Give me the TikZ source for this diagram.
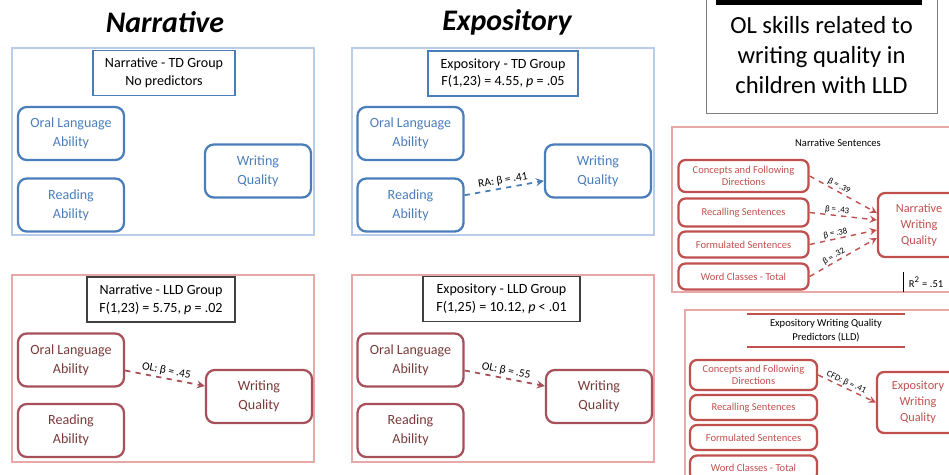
\documentclass[tikz,border=0pt]{standalone}
\usepackage{fontspec}
\setmainfont{Carlito}
\definecolor{tdline}{HTML}{4A7EBB}
\definecolor{tdframe}{HTML}{B9CDEB}
\definecolor{lldline}{HTML}{A8505A}
\definecolor{lldframe}{HTML}{E8A8A8}
\definecolor{lldtext}{HTML}{7A3A3A}
\definecolor{celfred}{HTML}{C0504D}
\tikzset{
  panel/.style={draw=#1, line width=0.6pt},
  tdbox/.style={draw=tdline, text=tdline, line width=1.3pt, rounded corners=5pt,
    minimum width=2.12cm, minimum height=1.06cm, align=center,
    font=\fontsize{8}{11}\selectfont},
  lldbox/.style={tdbox, draw=lldline, text=lldtext},
  headbox/.style={draw=#1, line width=1.1pt, align=center, inner sep=2pt,
    minimum height=0.9cm, font=\fontsize{8}{10}\selectfont},
  celfbox/.style={draw=celfred, text=celfred, line width=1.3pt, rounded corners=4pt,
    minimum width=2.6cm, align=center, inner sep=1pt, font=\fontsize{6}{7}\selectfont},
  link/.style={->, >=stealth, dashed, line width=1pt},
  weight/.style={midway, above, sloped, inner sep=1pt, font=\fontsize{6.5}{8}\selectfont},
  smallweight/.style={pos=0.4, above, sloped, inner sep=0.5pt, font=\fontsize{5}{6}\selectfont}
}
\begin{document}
\begin{tikzpicture}[x=0.02cm, y=-0.02cm]
  \useasboundingbox (0,0) rectangle (949,474);
  % column titles
  \draw
    (165,22) node[font=\fontsize{17}{20}\selectfont\bfseries\itshape] (ntitle) {Narrative}
    (507,22) node[font=\fontsize{17}{20}\selectfont\bfseries\itshape] (etitle) {Expository};
  % panels
  \draw[panel=tdframe] (12,48) rectangle (314,235);
  \draw[panel=tdframe] (352,48) rectangle (654,235);
  \draw[panel=lldframe] (12,275) rectangle (314,462);
  \draw[panel=lldframe] (352,275) rectangle (654,462);
  % narrative, TD
  \draw
    (164,73) node[headbox=tdline, minimum width=2.84cm] (ntdhead) {Narrative - TD Group\\No predictors}
    (71,133.5) node[tdbox] (ntdol) {Oral Language\\Ability}
    (71,205) node[tdbox] (ntdra) {Reading\\Ability}
    (258,171) node[tdbox] (ntdwq) {Writing\\Quality};
  % expository, TD
  \draw
    (503,73.5) node[headbox=tdline, minimum width=3cm] (etdhead) {Expository - TD Group\\F(1,23) = 4.55, \textit{p} = .05}
    (410.5,133.5) node[tdbox] (etdol) {Oral Language\\Ability}
    (410.5,205) node[tdbox] (etdra) {Reading\\Ability}
    (598,171) node[tdbox] (etdwq) {Writing\\Quality};
  % narrative, LLD
  \draw
    (161,299.5) node[headbox=darkgray, minimum width=2.96cm] (nlldhead) {Narrative - LLD Group\\F(1,23) = 5.75, \textit{p} = .02}
    (71,360) node[lldbox] (nlldol) {Oral Language\\Ability}
    (71,430.5) node[lldbox] (nlldra) {Reading\\Ability}
    (259,396.5) node[lldbox] (nlldwq) {Writing\\Quality};
  % expository, LLD
  \draw
    (501.5,299) node[headbox=darkgray, minimum width=3.14cm] (elldhead) {Expository - LLD Group\\F(1,25) = 10.12, \textit{p} < .01}
    (410.5,360) node[lldbox] (elldol) {Oral Language\\Ability}
    (410.5,430.5) node[lldbox] (elldra) {Reading\\Ability}
    (599,396.5) node[lldbox] (elldwq) {Writing\\Quality};
  \begin{scope}[link]
    \draw[tdline] (etdra) to node[weight, text=black] {RA: β = .41} (etdwq);
    \draw[lldline] (nlldol) to node[weight, text=black] {OL: β = .45} (nlldwq);
    \draw[lldline] (elldol) to node[weight, text=black] {OL: β = .55} (elldwq);
  \end{scope}
  % note, top right
  \draw[gray] (706,-5) rectangle (937,113);
  \fill (716,-2) rectangle (922,5);
  \draw (821.5,55) node[align=center, font=\fontsize{14}{17}\selectfont] (olnote)
    {OL skills related to\\writing quality in\\children with LLD};
  % CELF subtests, narrative
  \draw[panel=lldframe] (672,127) rectangle (955,292);
  \draw
    (838,143) node[font=\fontsize{6}{7}\selectfont] (cnhead) {Narrative Sentences}
    (743.5,176) node[celfbox, minimum height=0.64cm] (cn1) {Concepts and Following\\Directions}
    (743.5,212.5) node[celfbox, minimum height=0.56cm] (cn2) {Recalling Sentences}
    (743.5,244.5) node[celfbox, minimum height=0.52cm] (cn3) {Formulated Sentences}
    (743.5,276.5) node[celfbox, minimum height=0.52cm] (cn4) {Word Classes - Total}
    (919,225) node[celfbox, minimum width=1.64cm, minimum height=1.28cm,
      font=\fontsize{7}{9}\selectfont] (cnwq) {Narrative\\Writing\\Quality};
  \begin{scope}[link, celfred, line width=0.8pt]
    \draw (cn1.east) to node[smallweight, text=black] {β = .39} ([yshift=0.24cm]cnwq.west);
    \draw (cn2.east) to node[smallweight, text=black] {β = .43} ([yshift=0.1cm]cnwq.west);
    \draw (cn3.east) to node[smallweight, text=black] {β = .38} ([yshift=-0.1cm]cnwq.west);
    \draw (cn4.east) to node[smallweight, text=black] {β = .32} ([yshift=-0.26cm]cnwq.west);
  \end{scope}
  \draw (903,272) -- (903,292);
  \draw (926,282) node[font=\fontsize{6}{7}\selectfont] (cnr2) {R\textsuperscript{2} = .51};
  % CELF subtests, expository
  \draw[panel=lldframe] (685,480) -- (685,310) -- (955,310);
  \draw[celfred, line width=1pt] (747,314) -- (905,314) (747,347) -- (905,347);
  \draw
    (826,330.5) node[align=center, font=\fontsize{6}{7.5}\selectfont] (cehead) {Expository Writing Quality\\Predictors (LLD)}
    (753.5,375) node[celfbox, minimum width=2.54cm, minimum height=0.6cm] (ce1) {Concepts and Following\\Directions}
    (753.5,407.5) node[celfbox, minimum width=2.54cm, minimum height=0.5cm] (ce2) {Recalling Sentences}
    (753.5,437.5) node[celfbox, minimum width=2.54cm, minimum height=0.5cm] (ce3) {Formulated Sentences}
    (753.5,468) node[celfbox, minimum width=2.54cm, minimum height=0.5cm] (ce4) {Word Classes - Total}
    (918,402.5) node[celfbox, minimum width=1.64cm, minimum height=1.22cm,
      font=\fontsize{7}{9}\selectfont] (cewq) {Expository\\Writing\\Quality};
  \begin{scope}[link, celfred, line width=0.8pt]
    \draw (ce1.east) to node[smallweight, pos=0.45, text=black] {CFD: β = .41} (cewq.west);
  \end{scope}
\end{tikzpicture}
\end{document}
